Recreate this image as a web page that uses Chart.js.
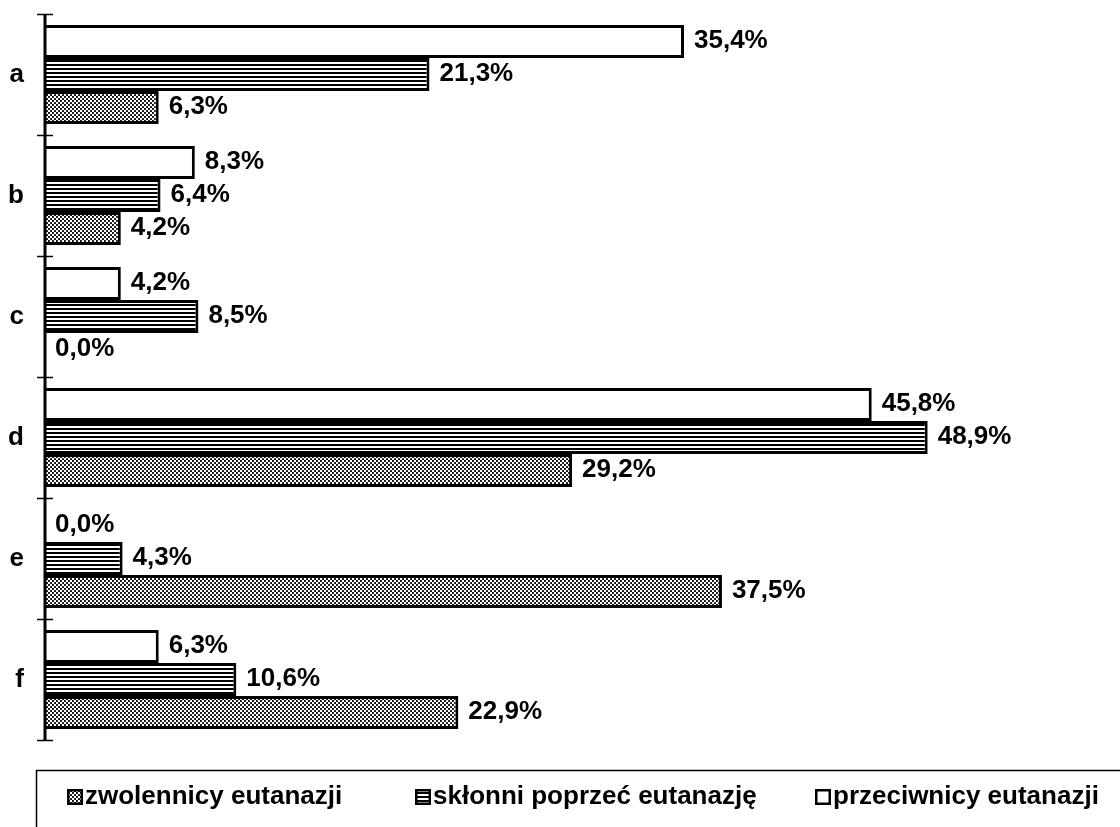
<!DOCTYPE html>
<html>
<head>
<meta charset="utf-8">
<script src="https://cdn.jsdelivr.net/npm/chart.js@4/dist/chart.umd.min.js"></script>
<style>
  html, body { margin: 0; padding: 0; background: #fff; }
  #wrap { width: 1120px; height: 827px; position: relative; }
</style>
</head>
<body>
<div id="wrap"><canvas id="chart" width="1120" height="827"></canvas></div>
<script>
// Categories and series values (%)
const categories = ['a', 'b', 'c', 'd', 'e', 'f'];
const przeciwnicy = [35.4, 8.3, 4.2, 45.8, 0.0, 6.3];
const sklonni     = [21.3, 6.4, 8.5, 48.9, 4.3, 10.6];
const zwolennicy  = [6.3, 4.2, 0.0, 29.2, 37.5, 22.9];
const seriesNames = ['przeciwnicy eutanazji', 'skłonni poprzeć eutanazję', 'zwolennicy eutanazji'];

const FONT = '"Liberation Sans", Arial, sans-serif';

// Fill patterns: fine dot screen and horizontal hatching
function dotPattern() {
  const c = document.createElement('canvas');
  c.width = 4; c.height = 4;
  const g = c.getContext('2d');
  g.fillStyle = '#fff'; g.fillRect(0, 0, 4, 4);
  g.fillStyle = '#000';
  g.beginPath(); g.arc(1, 1, 1.05, 0, Math.PI * 2); g.fill();
  g.beginPath(); g.arc(3, 3, 1.05, 0, Math.PI * 2); g.fill();
  return g.createPattern(c, 'repeat');
}
function linePattern() {
  const c = document.createElement('canvas');
  c.width = 8; c.height = 4;
  const g = c.getContext('2d');
  g.fillStyle = '#fff'; g.fillRect(0, 0, 8, 4);
  g.fillStyle = '#000'; g.fillRect(0, 0, 8, 2);
  return g.createPattern(c, 'repeat');
}
const fillWhite = '#ffffff';
const fillLines = linePattern();
const fillDots = dotPattern();

const fmt = v => v.toFixed(1).replace('.', ',') + '%';

// Value labels at the end of each bar
const valueLabels = {
  id: 'valueLabels',
  afterDatasetsDraw(chart) {
    const ctx = chart.ctx;
    ctx.save();
    ctx.font = 'bold 26px ' + FONT;
    ctx.fillStyle = '#000';
    ctx.textAlign = 'left';
    ctx.textBaseline = 'middle';
    chart.data.datasets.forEach((ds, di) => {
      chart.getDatasetMeta(di).data.forEach((bar, i) => {
        const x = chart.scales.x.getPixelForValue(ds.data[i]);
        ctx.fillText(fmt(ds.data[i]), x + 10, bar.y - 1);
      });
    });
    ctx.restore();
  }
};

// Vertical axis line with tick marks crossing it between categories
const axisLine = {
  id: 'axisLine',
  afterDatasetsDraw(chart) {
    const ctx = chart.ctx, area = chart.chartArea;
    const x0 = area.left;
    ctx.save();
    ctx.strokeStyle = '#000';
    ctx.lineWidth = 3;
    ctx.beginPath(); ctx.moveTo(x0, area.top); ctx.lineTo(x0, area.bottom); ctx.stroke();
    ctx.lineWidth = 1.5;
    const step = (area.bottom - area.top) / categories.length;
    for (let k = 0; k <= categories.length; k++) {
      const ty = Math.round(area.top + k * step) + 0.5;
      ctx.beginPath(); ctx.moveTo(x0 - 8, ty); ctx.lineTo(x0 + 8, ty); ctx.stroke();
    }
    ctx.restore();
  }
};

// Legend in an open frame under the plot
const frameLegend = {
  id: 'frameLegend',
  afterDraw(chart) {
    const ctx = chart.ctx;
    const items = [
      { label: seriesNames[2], fill: fillDots, sx: 67, tx: 85 },
      { label: seriesNames[1], fill: fillLines, sx: 415, tx: 433 },
      { label: seriesNames[0], fill: fillWhite, sx: 815, tx: 833 }
    ];
    ctx.save();
    ctx.strokeStyle = '#000';
    ctx.lineWidth = 1.5;
    ctx.beginPath();
    ctx.moveTo(1120, 770.5); ctx.lineTo(36.5, 770.5); ctx.lineTo(36.5, 827);
    ctx.stroke();
    ctx.font = 'bold 26px ' + FONT;
    ctx.textAlign = 'left';
    ctx.textBaseline = 'middle';
    items.forEach(it => {
      ctx.fillStyle = it.fill;
      ctx.fillRect(it.sx, 789, 16, 16);
      ctx.lineWidth = 2.5;
      ctx.strokeRect(it.sx + 1.25, 790.25, 13.5, 13.5);
      ctx.fillStyle = '#000';
      ctx.fillText(it.label, it.tx, 797);
    });
    ctx.restore();
  }
};

new Chart(document.getElementById('chart'), {
  type: 'bar',
  data: {
    labels: categories,
    datasets: [
      { label: seriesNames[0], data: przeciwnicy, backgroundColor: fillWhite },
      { label: seriesNames[1], data: sklonni, backgroundColor: fillLines },
      { label: seriesNames[2], data: zwolennicy, backgroundColor: fillDots }
    ]
  },
  options: {
    indexAxis: 'y',
    responsive: false,
    animation: false,
    devicePixelRatio: 1,
    layout: { padding: { top: 14, bottom: 87, left: 0, right: 10 } },
    datasets: {
      bar: {
        borderColor: '#000',
        borderWidth: 3,
        categoryPercentage: 0.82,
        barPercentage: 1
      }
    },
    scales: {
      x: { display: false, min: 0, max: 59 },
      y: {
        offset: true,
        grid: { display: false, drawTicks: false },
        border: { display: false },
        ticks: { color: '#000', font: { family: FONT, size: 26, weight: 'bold' }, padding: 21 },
        afterFit(scale) {
          scale.width = 45;
          scale.paddingTop = 0;
          scale.paddingBottom = 0;
        }
      }
    },
    plugins: {
      legend: { display: false },
      tooltip: { enabled: false }
    }
  },
  plugins: [valueLabels, axisLine, frameLegend]
});
</script>
</body>
</html>
